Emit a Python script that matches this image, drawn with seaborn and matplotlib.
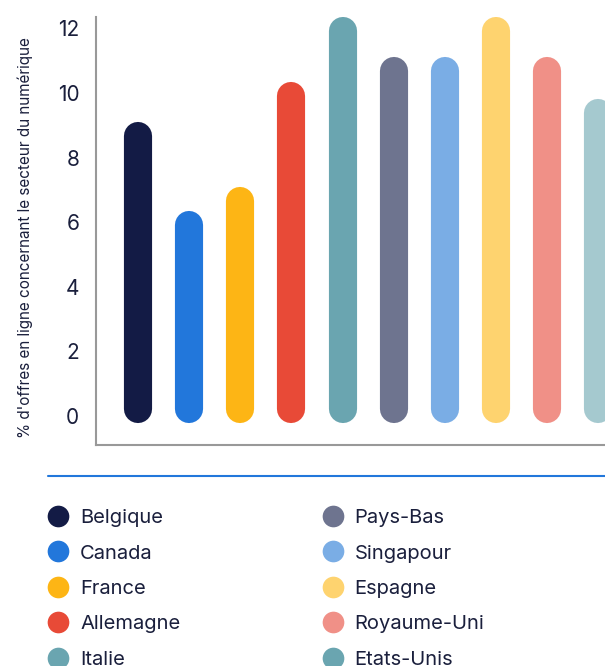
import matplotlib
matplotlib.use("Agg")
import matplotlib.pyplot as plt
from matplotlib.lines import Line2D
import seaborn as sns
import pandas as pd

# data
countries = ["Belgique", "Canada", "France", "Allemagne", "Italie",
             "Pays-Bas", "Singapour", "Espagne", "Royaume-Uni", "Etats-Unis"]
values = [9.1, 6.35, 7.1, 10.35, 12.35, 11.1, 11.1, 12.35, 11.1, 9.8]
colors = ["#131B45", "#2277DB", "#FDB515", "#E84A37", "#6AA5B0",
          "#6E748F", "#7AADE5", "#FED36F", "#F09087", "#6AA5B0"]
yticks = [0, 2, 4, 6, 8, 10, 12]
ylabel = "% d'offres en ligne concernant le secteur du numérique"

df = pd.DataFrame({"pays": countries, "valeur": values})

sns.set_style("white")
plt.rcParams["font.family"] = ["Inter", "DejaVu Sans"]
text_color = "#1A1F3C"

fig = plt.figure(figsize=(6.05, 6.66), dpi=100)
ax = fig.add_axes([96 / 605, 221 / 666, 528 / 605, 428 / 666])

sns.barplot(data=df, x="pays", y="valeur", hue="pays", palette=colors,
            saturation=1, legend=False, width=0.55, ax=ax)
ax.set_xlim(-0.82, 9.5)
ax.set_ylim(-0.9, 12.35)

# turn the bars into pills with round caps
fig.canvas.draw()
p0 = ax.transData.transform((0, 0))
p1 = ax.transData.transform((1, 1))
px_x = p1[0] - p0[0]
px_y = p1[1] - p0[1]
base = -0.22
for i, bar in enumerate(list(ax.patches)):
    x, w, h = bar.get_x(), bar.get_width(), bar.get_height()
    fc = bar.get_facecolor()
    bar.remove()
    wpx = w * px_x
    r = (wpx / 2) / px_y
    ax.plot([x + w / 2, x + w / 2], [base + r, h - r], color=fc,
            lw=wpx * 72 / fig.dpi, solid_capstyle="round",
            alpha=0.6 if countries[i] == "Etats-Unis" else 1)

ax.set_yticks(yticks)
ax.set_xticks([])
ax.set_xlabel("")
ax.tick_params(axis="y", length=0, pad=12, labelsize=15, labelcolor=text_color)
ax.set_ylabel(ylabel, fontsize=11, color=text_color)
ax.yaxis.set_label_coords(-0.12, 0.484)
sns.despine(ax=ax)
for s in ["left", "bottom"]:
    ax.spines[s].set_color("#999999")
    ax.spines[s].set_linewidth(1.5)

# separator
fig.add_artist(Line2D([48 / 605, 1], [190 / 666, 190 / 666],
                      color="#2277DB", lw=1.5))

handles = [Line2D([], [], marker="o", ls="", markersize=15.6,
                  markerfacecolor=c, markeredgewidth=0) for c in colors]
leg = fig.legend(handles, countries, ncol=2, loc="upper left",
                 bbox_to_anchor=(48 / 605, 1 - 509 / 666), frameon=False,
                 fontsize=14.5, labelcolor=text_color, handlelength=1.0,
                 handletextpad=0.6, labelspacing=0.86, columnspacing=7.05,
                 borderpad=0, borderaxespad=0)

fig.savefig("out.png", dpi=100)
